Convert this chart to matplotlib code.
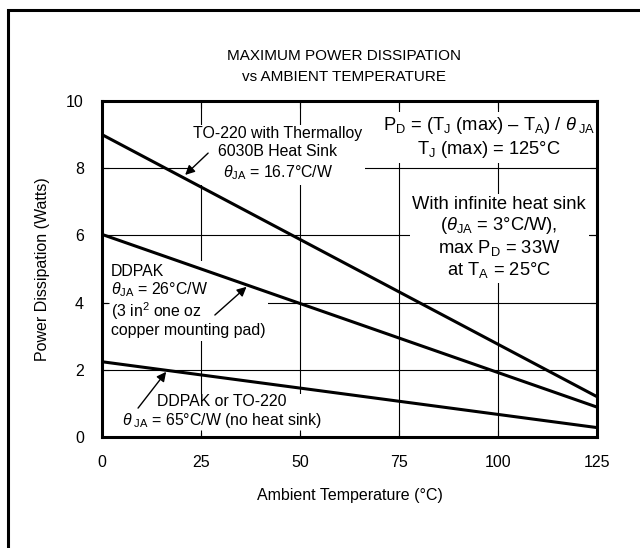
import numpy as np
import matplotlib.pyplot as plt
from matplotlib.patches import Rectangle

plt.rcParams['font.family'] = ['Liberation Sans', 'DejaVu Sans']
plt.rcParams['mathtext.fontset'] = 'custom'
plt.rcParams['mathtext.rm'] = 'Liberation Sans'
plt.rcParams['mathtext.it'] = 'Liberation Sans:italic'

# Curvas de dissipação
temp = [0, 125]
p_heatsink = [9.0, 1.2]      # TO-220 com dissipador Thermalloy
p_ddpak = [6.03, 0.89]       # DDPAK com ilha de cobre
p_noheatsink = [2.24, 0.28]  # DDPAK ou TO-220 sem dissipador

x_ticks = [0, 25, 50, 75, 100, 125]
y_ticks = [0, 2, 4, 6, 8, 10]

fig = plt.figure(figsize=(6.4, 5.48), dpi=100)
ax = fig.add_axes([102/640, 1 - 437/548, 495/640, 336/548])

# Moldura externa
fig.add_artist(Rectangle((7.5/640, -0.1), 1.2, 1.1 - 9.5/548, transform=fig.transFigure,
                         fill=False, lw=2.2, ec='black', clip_on=False))

# Grade desenhada por baixo dos textos
for xv in x_ticks[1:-1]:
    ax.axvline(xv, color='black', lw=0.8, zorder=0.5)
for yv in y_ticks[1:-1]:
    ax.axhline(yv, color='black', lw=0.8, zorder=0.5)

for p in (p_heatsink, p_ddpak, p_noheatsink):
    ax.plot(temp, p, color='black', lw=2.2, solid_capstyle='butt', zorder=2.2, clip_on=False)

ax.set_xlim(0, 125)
ax.set_ylim(0, 10)
ax.set_xticks(x_ticks)
ax.set_yticks(y_ticks)
ax.set_axisbelow(False)
ax.tick_params(direction='in', length=5, width=0.8, top=True, right=True,
               labelsize=11.5, pad=13)
for s in ax.spines.values():
    s.set_linewidth(2.2)
    s.set_zorder(3)

ax.set_xlabel('Ambient Temperature (°C)', fontsize=11.5, labelpad=13)
ax.set_ylabel('Power Dissipation (Watts)', fontsize=11.5, labelpad=12)
fig.text(344/640, 1 - 66.5/548, 'MAXIMUM POWER DISSIPATION\nvs AMBIENT TEMPERATURE',
         ha='center', va='center', fontsize=11, linespacing=1.6)

box = dict(facecolor='white', edgecolor='none', pad=2)
fs = 11.4
fs_big = 13.2

ax.text(44.4, 8.42, 'TO-220 with Thermalloy\n6030B Heat Sink\n$\\theta_{\\rm JA}$ = 16.7°C/W',
        ha='center', va='center', fontsize=fs, linespacing=1.25, bbox=box, zorder=2)
ax.text(97.7, 8.91, 'P$_{\\rm D}$ = (T$_{\\rm J}$ (max) – T$_{\\rm A}$) / $\\theta_{\\rm\\ JA}$\nT$_{\\rm J}$ (max) = 125°C',
        ha='center', va='center', fontsize=fs_big, linespacing=1.2, bbox=box, zorder=2)
ax.text(100.3, 5.92, 'With infinite heat sink\n($\\theta_{\\rm JA}$ = 3°C/W),\nmax P$_{\\rm D}$ = 33W\nat T$_{\\rm A}$ = 25°C',
        ha='center', va='center', fontsize=fs_big, linespacing=1.15, bbox=box, zorder=2)
ax.text(2.2, 4.05, 'DDPAK\n$\\theta_{\\rm JA}$ = 26°C/W\n(3 in$^2$ one oz\ncopper mounting pad)',
        ha='left', va='center', fontsize=fs, linespacing=1.1, bbox=box, zorder=2)
ax.text(30.3, 0.74, 'DDPAK or TO-220\n$\\theta_{\\rm\\ JA}$ = 65°C/W (no heat sink)',
        ha='center', va='center', fontsize=fs, linespacing=1.1, bbox=box, zorder=2)

arrow = dict(arrowstyle='-|>', color='black', lw=1, mutation_scale=14, shrinkA=0, shrinkB=0)
ax.annotate('', xy=(21.0, 7.8), xytext=(26.8, 8.45), arrowprops=arrow, zorder=2.3)
ax.annotate('', xy=(36.5, 4.47), xytext=(28.5, 3.63), arrowprops=arrow, zorder=2.3)
ax.annotate('', xy=(16.2, 1.94), xytext=(9.1, 0.86), arrowprops=arrow, zorder=2.3)

fig.savefig('out.png', dpi=100)
